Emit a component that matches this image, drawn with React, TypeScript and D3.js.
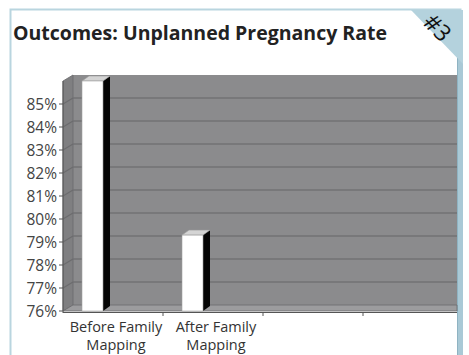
import React from 'react';
import * as d3 from 'd3';

const categories = ['Before Family\nMapping', 'After Family\nMapping', 'c3', 'c4'];
const rates = [86, 79.3, null, null];
const yTicks = [76, 77, 78, 79, 80, 81, 82, 83, 84, 85];

const W = 469, H = 355;
const DX = 10, DY = -6; // depth of the 3d walls
const BDX = 7, BDY = -5; // depth of the bars

const App = () => {
  const y = d3.scaleLinear().domain([76, 86]).range([311, 81]);
  const x = d3.scaleBand().domain(categories).range([63, 463]).padding(0);
  const left = 63, right = 457;
  const y0 = y(76);
  const yTop = y(86);

  const leftWall = d3.line()([
    [left, yTop], [left + DX, yTop + DY], [left + DX, y0 + DY], [left, y0]
  ]);
  const floor = d3.line()([
    [left, y0], [left + DX, y0 + DY], [right, y0 + DY], [right, y0]
  ]);

  const font = "'Open Sans', sans-serif";

  return (
    <svg width={W} height={H} style={{ position: 'absolute', left: 0, top: 0, background: '#fff' }}>
      {/* frame */}
      <rect x={10.5} y={9.5} width={450} height={360} fill="#fff" stroke="#b9d5df" strokeWidth={2} />
      <rect x={457} y={10} width={6} height={350} fill="#a9c9d6" />
      <line x1={457.5} y1={10} x2={457.5} y2={355} stroke="#8fb3c2" />
      <path d={d3.line()([[411, 10], [463, 10], [463, 64]]) + 'Z'} fill="#b4d2dd" />
      <text x={438} y={27} fontFamily={font} fontSize={23} fill="#111" textAnchor="middle"
        dominantBaseline="central" transform="rotate(45 438 27)">#3</text>

      <text x={13} y={40} fontFamily={font} fontWeight="bold" fontSize={19.5} fill="#222"
        textLength={374} lengthAdjust="spacingAndGlyphs">
        Outcomes: Unplanned Pregnancy Rate
      </text>

      {/* walls */}
      <rect x={left + DX} y={yTop + DY} width={right - left - DX} height={y0 - yTop} fill="#8b8b8d" />
      <path d={leftWall + 'Z'} fill="#7f7f81" stroke="#6a6a6c" strokeWidth={0.8} />
      <path d={floor + 'Z'} fill="#9c9c9e" stroke="#6a6a6c" strokeWidth={0.8} />
      {yTicks.slice(1).map(t => (
        <g key={t}>
          <line x1={left + DX} x2={right} y1={y(t) + DY} y2={y(t) + DY} stroke="#727274" strokeWidth={1.5} />
          <line x1={left} x2={left + DX} y1={y(t)} y2={y(t) + DY} stroke="#6c6c6e" strokeWidth={1.2} />
        </g>
      ))}

      {/* bars */}
      {categories.map((c, i) => {
        const v = rates[i];
        if (v == null) return null;
        const bx = (x(c) as number) + 19;
        const bw = 21;
        const top = y(v);
        return (
          <g key={c}>
            <path d={d3.line()([[bx + bw, top], [bx + bw + BDX, top + BDY], [bx + bw + BDX, y0 + BDY], [bx + bw, y0]]) + 'Z'} fill="#050505" />
            <path d={d3.line()([[bx, top], [bx + BDX, top + BDY], [bx + bw + BDX, top + BDY], [bx + bw, top]]) + 'Z'} fill="#d4d4d4" stroke="#9a9a9a" strokeWidth={0.6} />
            <rect x={bx} y={top} width={bw} height={y0 - top} fill="#fff" stroke="#a0a0a0" strokeWidth={0.6} />
          </g>
        );
      })}

      {/* axes */}
      <line x1={left} x2={left} y1={yTop} y2={y0 + 2} stroke="#555" />
      <line x1={left} x2={right} y1={y0 + 1.5} y2={y0 + 1.5} stroke="#555" />
      {yTicks.map(t => (
        <g key={t}>
          <line x1={left - 4} x2={left} y1={y(t)} y2={y(t)} stroke="#555" />
          <text x={57} y={y(t)} fontFamily={font} fontSize={15.5} fill="#444" textAnchor="end" dominantBaseline="central">
            {t}%
          </text>
        </g>
      ))}
      {categories.slice(1).map(c => (
        <line key={c} x1={x(c)} x2={x(c)} y1={y0 + 1.5} y2={y0 + 5} stroke="#555" />
      ))}
      {categories.map(c => c.startsWith('c') ? null : (
        <text key={c} fontFamily={font} fontSize={14.5} fill="#333" textAnchor="middle">
          {c.split('\n').map((s, k) => (
            <tspan key={k} x={(x(c) as number) + x.bandwidth() / 2 + 3} y={332 + k * 18}>{s}</tspan>
          ))}
        </text>
      ))}
    </svg>
  );
};

export default App;
